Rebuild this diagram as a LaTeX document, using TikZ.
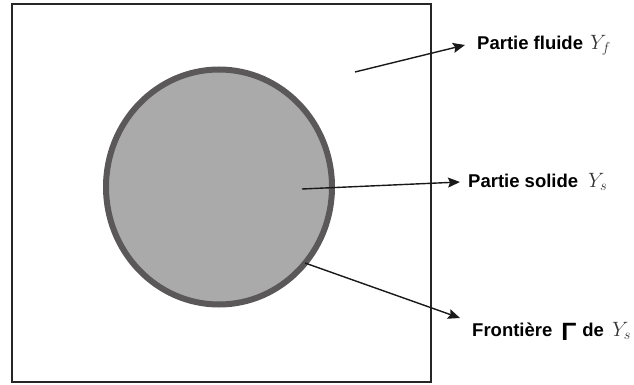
\documentclass[tikz,border=0pt]{standalone}
\usepackage{fontspec}
\setmainfont{Liberation Sans}
\usetikzlibrary{arrows.meta}
\definecolor{rim}{HTML}{5A5858}
\definecolor{solid}{HTML}{AAAAAA}
\definecolor{mathgray}{HTML}{333333}
\tikzset{
  cellbox/.style={draw=black!85, line width=1.6pt},
  inclusion/.style={draw=rim, fill=solid, line width=6pt},
  pointer/.style={draw=black!90, line width=1.4pt, -{Stealth[length=12pt,width=10pt,inset=2pt]}},
  tag/.style={anchor=west, inner sep=0pt, font=\bfseries\fontsize{18.5}{20}\selectfont}
}
\newcommand{\setvar}[1]{\textcolor{mathgray}{\fontsize{19.5}{20}\selectfont$#1$}}
\begin{document}
\begin{tikzpicture}[x=1pt,y=-1pt]
  \useasboundingbox (0,0) rectangle (634,385);
  % periodic cell
  \draw[cellbox] (12,4) rectangle (431,382);
  % solid inclusion
  \draw[inclusion] (219,187) ellipse [x radius=113, y radius=117.5];
  % label anchors
  \coordinate (f0) at (355,72);
  \coordinate (s0) at (302,189);
  \coordinate (b0) at (305,263);
  \coordinate (b1) at (460,318);
  \node[tag] (fl) at (477,45) {Partie fluide\hspace{7pt}\setvar{Y_f}};
  \node[tag] (so) at (468,182) {Partie solide\hspace{10pt}\setvar{Y_s}};
  \node[tag] (fr) at (472,331) {Frontière\hspace{9pt}\raisebox{-4pt}{\fontsize{25}{25}\selectfont Γ}\hspace{6pt}de\hspace{8pt}\setvar{Y_s}};
  % pointers
  \draw[pointer] (f0) -- ([xshift=-12pt]fl.west);
  \draw[pointer] (s0) -- ([xshift=-8pt]so.west);
  \draw[pointer] (b0) -- (b1);
\end{tikzpicture}
\end{document}
